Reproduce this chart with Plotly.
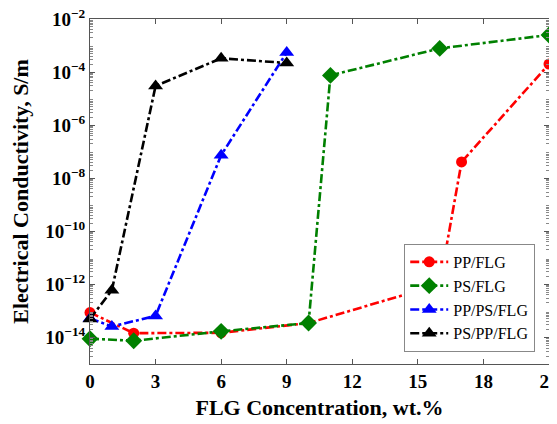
import plotly.graph_objects as go

x_pp_flg = [0, 2, 6, 10, 16, 17, 21]
y_pp_flg = [8.7e-14, 1.45e-14, 1.5e-14, 3.5e-14, 1.0e-12, 4.1e-8, 2.0e-4]

x_ps_flg = [0, 2, 6, 10, 11, 16, 21]
y_ps_flg = [9.0e-15, 7.5e-15, 1.7e-14, 3.5e-14, 7.5e-5, 7.8e-4, 2.5e-3]

x_pp_ps_flg = [0, 1, 3, 6, 9]
y_pp_ps_flg = [5.2e-14, 2.6e-14, 6.5e-14, 7.4e-8, 5.5e-4]

x_ps_pp_flg = [0, 1, 3, 6, 9]
y_ps_pp_flg = [5.0e-14, 6.0e-13, 3.0e-5, 3.3e-4, 2.2e-4]

series = [
    ("PP/FLG", x_pp_flg, y_pp_flg, "#ff0000", "circle", 11),
    ("PS/FLG", x_ps_flg, y_ps_flg, "#008000", "diamond", 13),
    ("PP/PS/FLG", x_pp_ps_flg, y_pp_ps_flg, "#0000ff", "triangle-up", 13),
    ("PS/PP/FLG", x_ps_pp_flg, y_ps_pp_flg, "#000000", "triangle-up", 13),
]

x_ticks = [0, 3, 6, 9, 12, 15, 18, 21]
y_exps = [-14, -12, -10, -8, -6, -4, -2]

FONT = "Liberation Serif"

fig = go.Figure()
for name, xs, ys, col, sym, sz in series:
    fig.add_trace(go.Scatter(
        x=xs, y=ys, name=name, mode="lines+markers",
        line=dict(color=col, width=2.6, dash="dashdot"),
        marker=dict(color=col, symbol=sym, size=sz, line=dict(width=0)),
        cliponaxis=False,
    ))

fig.update_layout(
    width=549, height=416,
    margin=dict(l=82, r=8, t=11, b=60),
    plot_bgcolor="white", paper_bgcolor="white",
    font=dict(family=FONT, size=18, color="black"),
    showlegend=True,
    legend=dict(
        x=0.97, y=0.035, xanchor="right", yanchor="bottom",
        bgcolor="white", bordercolor="#888888", borderwidth=1,
        font=dict(family=FONT, size=16, color="black"),
        tracegroupgap=0, itemwidth=38,
    ),
)

fig.update_xaxes(
    range=[0, 21], tickvals=x_ticks, ticktext=[f"<b>{v}</b>" for v in x_ticks],
    ticks="inside", ticklen=5, tickcolor="#555555", mirror="ticks",
    showline=True, linecolor="#555555", linewidth=1, showgrid=False, zeroline=False,
    tickfont=dict(family=FONT, size=19, color="black"), automargin=False,
    ticklabeloverflow="allow",
    title=dict(text="<b>FLG Concentration, wt.%</b>", font=dict(family=FONT, size=22), standoff=8),
)
fig.update_yaxes(
    type="log", range=[-15, -2],
    tickvals=[10.0 ** e for e in y_exps],
    ticktext=[f"<b>10<sup>\u2212{-e}</sup></b>" for e in y_exps],
    ticks="inside", ticklen=5, tickcolor="#555555", mirror="ticks",
    showline=True, linecolor="#555555", linewidth=1, showgrid=False, zeroline=False,
    minor=dict(ticks="inside", ticklen=3, tickcolor="#888888",
               tickvals=[m * 10.0 ** e for e in range(-15, -2) for m in range(2, 10)]),
    tickfont=dict(family=FONT, size=19, color="black"), automargin=False,
    ticklabeloverflow="allow",
    title=dict(text="<b>Electrical Conductivity, S/m</b>", font=dict(family=FONT, size=22), standoff=10),
)

fig.write_html("out.html")
